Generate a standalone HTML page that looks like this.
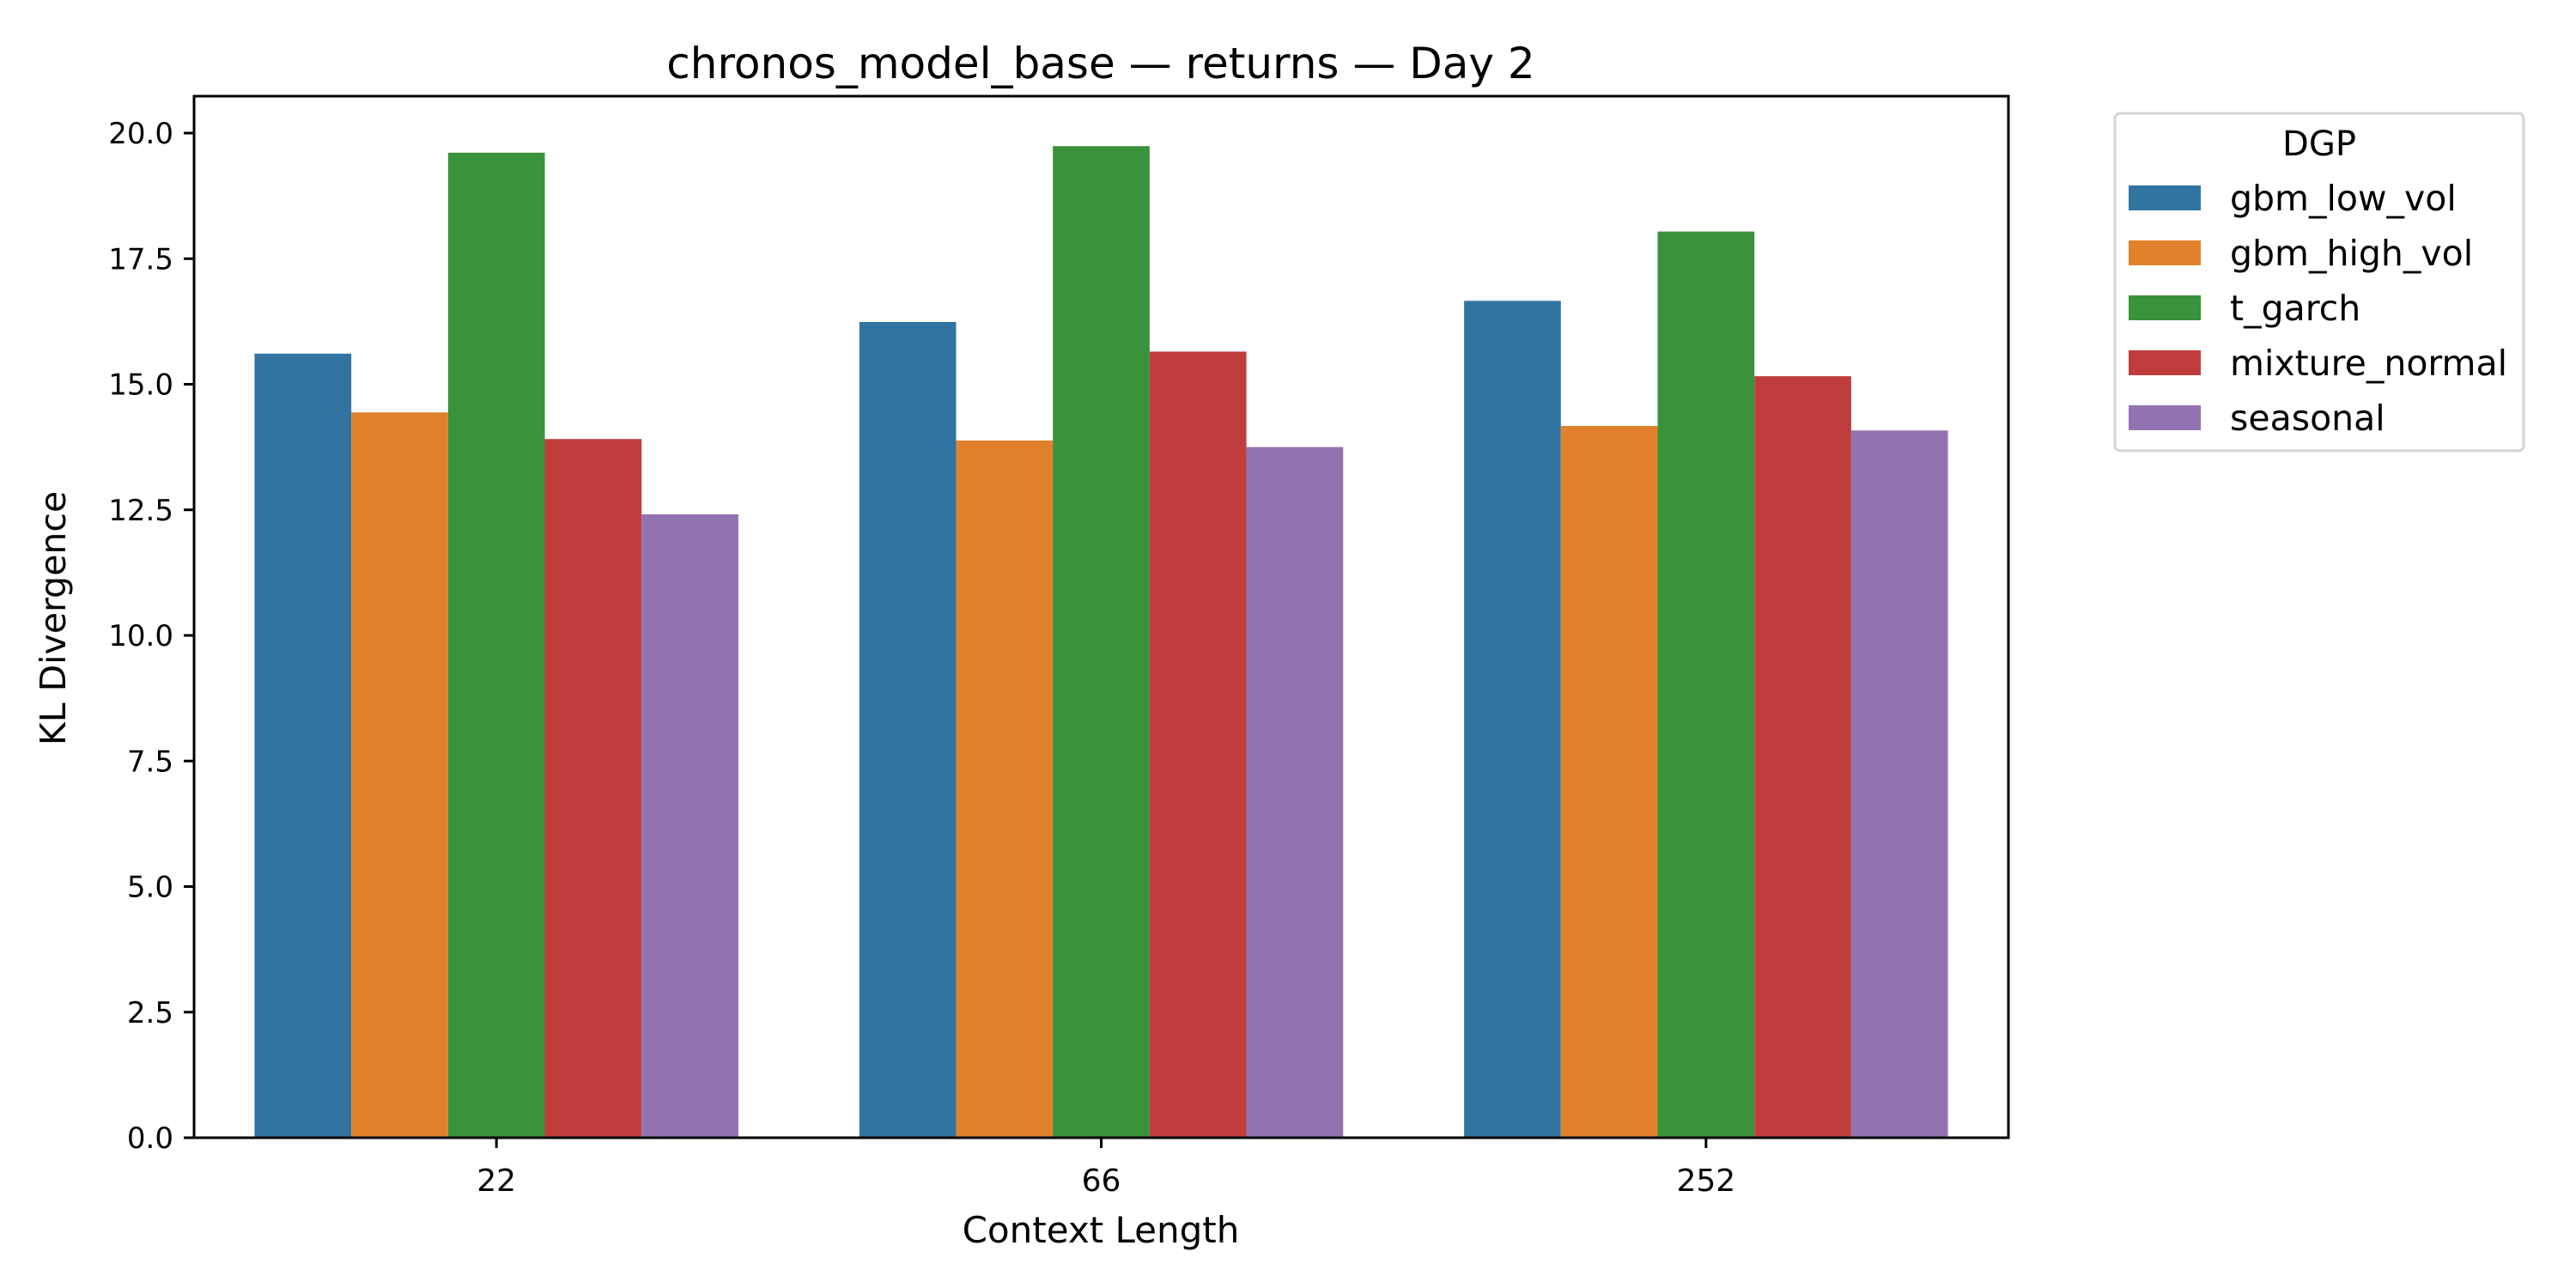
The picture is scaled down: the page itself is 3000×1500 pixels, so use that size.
<!DOCTYPE html>
<html><head><meta charset="utf-8"><style>
html,body{margin:0;padding:0;background:#fff;}
svg{display:block;font-family:"DejaVu Sans","Liberation Sans",sans-serif;}
</style></head><body>
<svg id="chart" width="3000" height="1500" viewBox="0 0 3000 1500" xmlns="http://www.w3.org/2000/svg">
<text x="1282" y="91" font-size="50" text-anchor="middle">chronos_model_base — returns — Day 2</text>
<g id="bars"></g>
<g id="yaxis"></g>
<g id="xaxis"></g>
<rect x="226" y="112" width="2113" height="1213" fill="none" stroke="#000" stroke-width="3"/>
<text x="1282" y="1447" font-size="42" text-anchor="middle">Context Length</text>
<text transform="translate(76,720) rotate(-90)" font-size="41" text-anchor="middle">KL Divergence</text>
<g id="legend">
<rect x="2463" y="132" width="476" height="393" rx="6" fill="#fff" stroke="#d5d5d5" stroke-width="3"/>
<text x="2701" y="181" font-size="40" text-anchor="middle">DGP</text>
</g>
</svg>
<script>
const categories = ["22", "66", "252"];
const seriesNames = ["gbm_low_vol", "gbm_high_vol", "t_garch", "mixture_normal", "seasonal"];
const seriesColors = ["#3274a1", "#e1812c", "#3a923a", "#c03d3e", "#9372b2"];
const gbmLowVol = [15.61, 16.24, 16.66];
const gbmHighVol = [14.44, 13.88, 14.17];
const tGarch = [19.61, 19.74, 18.04];
const mixtureNormal = [13.91, 15.65, 15.16];
const seasonal = [12.41, 13.75, 14.08];
const yTicks = [0, 2.5, 5, 7.5, 10, 12.5, 15, 17.5, 20];
const yTickLabels = ["0.0", "2.5", "5.0", "7.5", "10.0", "12.5", "15.0", "17.5", "20.0"];

const series = [gbmLowVol, gbmHighVol, tGarch, mixtureNormal, seasonal];
const NS = "http://www.w3.org/2000/svg";
const L = 226, R = 2339, T = 112, B = 1325;
const Y0 = 1325, Y20 = 155;
function yScale(v) { return Y0 + (Y20 - Y0) * v / 20; }
function xScale(v) { return L + (v + 0.5) / categories.length * (R - L); }
function mk(tag, attrs, parent) {
  const e = document.createElementNS(NS, tag);
  for (const k in attrs) e.setAttribute(k, attrs[k]);
  parent.appendChild(e);
  return e;
}
const barsG = document.getElementById("bars");
const bw = 0.8 / seriesNames.length;
series.forEach((vals, si) => {
  vals.forEach((v, ci) => {
    const x0 = xScale(ci - 0.4 + si * bw), x1 = xScale(ci - 0.4 + (si + 1) * bw);
    const r = mk("rect", {x: x0, y: yScale(v), width: x1 - x0, height: yScale(0) - yScale(v), fill: seriesColors[si]}, barsG);
    
    
  });
});
const yG = document.getElementById("yaxis");
yTicks.forEach((t, i) => {
  const y = yScale(t);
  const ln = mk("line", {x1: 214, x2: 226, y1: y, y2: y, stroke: "#000", "stroke-width": 3}, yG);
  
  
  const tx = mk("text", {x: 202, y: y + 12, "font-size": 34, "text-anchor": "end"}, yG);
  tx.textContent = yTickLabels[i];
  
  
});
const xG = document.getElementById("xaxis");
categories.forEach((c, i) => {
  const x = xScale(i);
  const ln = mk("line", {x1: x, x2: x, y1: 1325, y2: 1337, stroke: "#000", "stroke-width": 3}, xG);
  
  
  const tx = mk("text", {x: x, y: 1387, "font-size": 36, "text-anchor": "middle"}, xG);
  tx.textContent = c;
  
  
});
const lg = document.getElementById("legend");
seriesNames.forEach((n, i) => {
  const cy = 231 + i * 64;
  const g = mk("g", {}, lg);
  
  
  mk("rect", {x: 2479, y: cy - 15, width: 84, height: 29, fill: seriesColors[i]}, g);
  const tx = mk("text", {x: 2597, y: cy + 14, "font-size": 41}, g);
  tx.textContent = n;
});
</script>
</body></html>
